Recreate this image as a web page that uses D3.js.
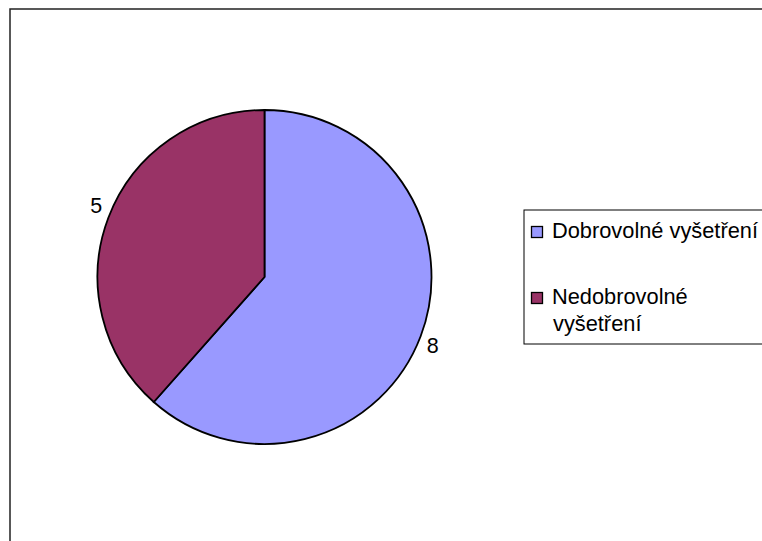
<!DOCTYPE html>
<html lang="cs">
<head>
<meta charset="UTF-8">
<title>Vyšetření</title>
<style>
body { margin: 0; background: #fff; }
text { font-family: "Liberation Sans", Arial, sans-serif; fill: #000; }
</style>
</head>
<body>
<script src="https://cdn.jsdelivr.net/npm/d3@7"></script>
<script>
    var categories = ["Dobrovolné vyšetření", "Nedobrovolné vyšetření"];
    var legendLines = [["Dobrovolné vyšetření"], ["Nedobrovolné", "vyšetření"]];
    var values = [8, 5];
    var colors = ["#9999FF", "#993366"];

    var width = 762, height = 541;
    var cx = 264.5, cy = 277, radius = 167;

    var svg = d3.select("body").append("svg")
        .attr("width", width)
        .attr("height", height);

    // outer chart frame (runs off the right and bottom)
    svg.append("rect")
        .attr("x", 10).attr("y", 9)
        .attr("width", width + 10).attr("height", height + 10)
        .attr("fill", "#fff")
        .attr("stroke", "#222")
        .attr("stroke-width", 1.5);

    var data = categories.map(function(c, i) { return { name: c, value: values[i], color: colors[i] }; });

    var pie = d3.pie().sort(null).value(function(d) { return d.value; });
    var arc = d3.arc().innerRadius(0).outerRadius(radius);
    var labelArc = d3.arc().innerRadius(radius + 13).outerRadius(radius + 13);

    var g = svg.append("g").attr("transform", "translate(" + cx + "," + cy + ")");
    var arcs = pie(data);

    g.selectAll("path")
        .data(arcs)
        .enter().append("path")
        .attr("d", arc)
        .attr("fill", function(d) { return d.data.color; })
        .attr("stroke", "#000")
        .attr("stroke-width", 1.8);

    g.selectAll(".lbl")
        .data(arcs)
        .enter().append("text")
        .attr("class", "lbl")
        .attr("transform", function(d) {
            var c = labelArc.centroid(d);
            return "translate(" + c[0] + "," + (c[1] + (c[1] < 0 ? -8 : 5)) + ")";
        })
        .attr("text-anchor", "middle")
        .attr("dy", "0.35em")
        .style("font-size", "21.5px")
        .text(function(d) { return d.data.value; });

    // legend
    var legend = svg.append("g").attr("transform", "translate(524,210)");
    legend.append("rect")
        .attr("x", 0).attr("y", 0)
        .attr("width", 260).attr("height", 134)
        .attr("fill", "#fff")
        .attr("stroke", "#000")
        .attr("stroke-width", 1);

    var rowY = [22, 88];
    var items = legend.selectAll(".item")
        .data(data)
        .enter().append("g")
        .attr("class", "item")
        .attr("transform", function(d, i) { return "translate(7," + rowY[i] + ")"; });

    items.append("rect")
        .attr("x", 0.5).attr("y", -5.5)
        .attr("width", 11).attr("height", 11)
        .attr("fill", function(d) { return d.color; })
        .attr("stroke", "#000")
        .attr("stroke-width", 1.3);

    items.each(function(d, i) {
        var t = d3.select(this).append("text")
            .attr("x", 21)
            .attr("y", 6)
            .style("font-size", "21.8px");
        legendLines[i].forEach(function(line, j) {
            t.append("tspan").attr("x", j ? 22 : 21).attr("dy", j ? 27 : 0).text(line);
        });
    });
</script>
</body>
</html>
